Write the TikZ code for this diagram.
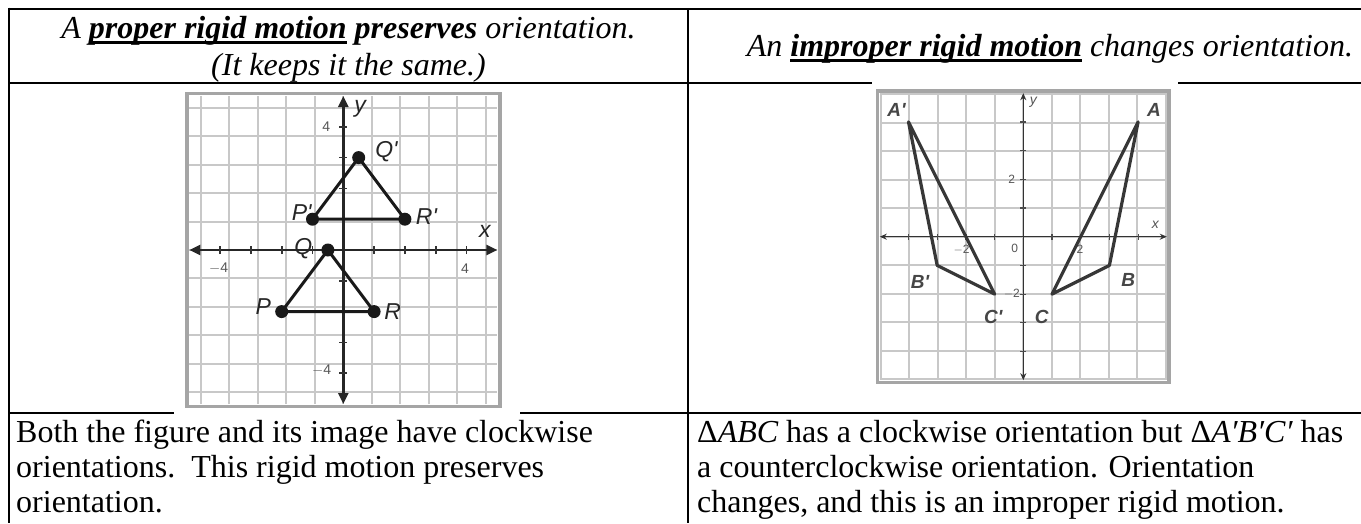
\documentclass[tikz,border=0pt]{standalone}
\usepackage{fontspec}
\setmainfont{Liberation Serif}
\newfontfamily\lblfont{Liberation Sans}
\usetikzlibrary{arrows.meta}
\definecolor{gridgray}{RGB}{200,200,200}
\definecolor{framegray}{RGB}{165,165,165}
\definecolor{lblgray}{RGB}{70,70,70}
\definecolor{numgray}{RGB}{85,85,85}
\definecolor{trigray}{RGB}{55,55,55}
\newcommand{\myul}[1]{\setbox0=\hbox{#1}\rlap{\rule[-5.5pt]{\wd0}{3pt}}\box0}
\newcommand{\pr}{\char"2032\relax}
\begin{document}
\begin{tikzpicture}[x=1pt,y=-1pt,
  tbl/.style={line width=2.6pt},
  hdr/.style={anchor=base,inner sep=0pt,font=\fontsize{32}{36}\selectfont},
  bodytxt/.style={anchor=base west,inner sep=0pt,font=\fontsize{32}{36}\selectfont},
  gridL/.style={draw=gridgray,line width=2pt},
  frameL/.style={draw=framegray,line width=3.5pt},
  axisL/.style={draw=black!85,line width=2.4pt,{Triangle[length=11pt,width=10pt]}-{Triangle[length=11pt,width=10pt]}},
  tickL/.style={draw=black!80,line width=1.6pt},
  triL/.style={draw=black!90,line width=3pt,line join=round},
  dotL/.style={circle,fill=black!90,inner sep=0pt,minimum size=13pt},
  lblL/.style={inner sep=0pt,font=\lblfont\itshape\fontsize{23}{23}\selectfont,text=black!85},
  numL/.style={inner sep=0pt,font=\lblfont\fontsize{14}{14}\selectfont,text=numgray},
  gridR/.style={draw=gridgray,line width=2pt},
  frameR/.style={draw=framegray,line width=3.5pt},
  axisR/.style={draw=black!80,line width=1.4pt,{Stealth[length=7pt,width=6pt]}-{Stealth[length=7pt,width=6pt]}},
  tickR/.style={draw=black!70,line width=1.2pt},
  triR/.style={draw=trigray,line width=3.2pt,line join=round},
  lblR/.style={inner sep=0pt,font=\lblfont\bfseries\itshape\fontsize{19}{19}\selectfont,text=lblgray},
  numR/.style={inner sep=0pt,font=\lblfont\fontsize{12}{12}\selectfont,text=numgray}
]
\useasboundingbox (0,0) rectangle (1361,523);
\fill[white] (0,0) rectangle (1361,523);

% table rules
\draw[tbl] (9,9) -- (1361,9);
\draw[tbl] (9,7.7) -- (9,523);
\draw[tbl] (688,9) -- (688,523);
\draw[tbl] (9,83) -- (872,83);
\draw[tbl] (1178,83) -- (1361,83);
\draw[tbl] (9,413) -- (174,413);
\draw[tbl] (520,413) -- (1361,413);

% headers
\node[hdr] (h1) at (348.5,38.5) {{\itshape A }\myul{\bfseries\itshape proper rigid motion}{\bfseries\itshape\ preserves}{\itshape\ orientation.}};
\node[hdr] (h2) at (348.5,75) {\itshape (It keeps it the same.)};
\node[hdr] (h3) at (1050,56) {{\itshape An }\myul{\bfseries\itshape improper rigid motion}{\itshape\ changes orientation.}};

% body text
\node[bodytxt] (b1) at (16,442) {Both the figure and its image have clockwise};
\node[bodytxt] (b2) at (16,477) {orientations.\ \ This rigid motion preserves};
\node[bodytxt] (b3) at (16,512) {orientation.};
\node[bodytxt] (c1) at (697,442) {Δ{\itshape ABC} has a clockwise orientation but Δ{\itshape A\pr B\pr C\pr} has};
\node[bodytxt] (c2) at (697,477) {a counterclockwise orientation. Orientation};
\node[bodytxt] (c3) at (697,512) {changes, and this is an improper rigid motion.};

% left graph
\begin{scope}[shift={(343.3,250)},x=30.8pt,y=30.8pt]
  \draw[gridL] (-5,-5) grid (5,5);
  \draw[frameL] (-5.08,-5.08) rectangle (5.08,5.08);
  \coordinate (xl1) at (-5,0); \coordinate (xr1) at (5,0);
  \coordinate (yb1) at (0,-5); \coordinate (yt1) at (0,5);
  \draw[axisL] (xl1) -- (xr1);
  \draw[axisL] (yb1) -- (yt1);
  \foreach \i in {-4,...,-1,1,2,3,4} {
    \draw[tickL] (\i,-0.13) -- (\i,0.13);
    \draw[tickL] (-0.13,\i) -- (0.13,\i);
  }
  \coordinate (P) at (-2,-2); \coordinate (Q) at (-0.5,0); \coordinate (R) at (1,-2);
  \coordinate (P') at (-1,1); \coordinate (Q') at (0.5,3); \coordinate (R') at (2,1);
  \draw[triL] (P) -- (Q) -- (R) -- cycle;
  \draw[triL] (P') -- (Q') -- (R') -- cycle;
  \node[dotL] (dP) at (P) {}; \node[dotL] (dQ) at (Q) {}; \node[dotL] (dR) at (R) {};
  \node[dotL] (dPp) at (P') {}; \node[dotL] (dQp) at (Q') {}; \node[dotL] (dRp) at (R') {};
  \node[lblL] (lQp) at (1.4,3.2) {Q'};
  \node[lblL] (lPp) at (-1.35,1.2) {P'};
  \node[lblL] (lRp) at (2.7,1.1) {R'};
  \node[lblL] (lQ) at (-1.3,0.05) {Q};
  \node[lblL] (lP) at (-2.6,-1.85) {P};
  \node[lblL] (lR) at (1.6,-2.0) {R};
  \node[lblL] (ly1) at (0.55,4.6) {y};
  \node[lblL] (lx1) at (4.6,0.6) {x};
  \node[numL] (n1) at (-0.55,4) {4};
  \node[numL] (n2) at (-4.05,-0.6) {$-$4};
  \node[numL] (n3) at (3.95,-0.6) {4};
  \node[numL] (n4) at (-0.7,-3.9) {$-$4};
\end{scope}

% right graph
\begin{scope}[shift={(1023.3,236.7)},x=28.7pt,y=28.7pt]
  \draw[gridR] (-5,-5) grid (5,5);
  \draw[frameR] (-5.08,-5.08) rectangle (5.08,5.08);
  \coordinate (xl2) at (-5,0); \coordinate (xr2) at (5,0);
  \coordinate (yb2) at (0,-5); \coordinate (yt2) at (0,5);
  \draw[axisR] (xl2) -- (xr2);
  \draw[axisR] (yb2) -- (yt2);
  \foreach \i in {-4,...,-1,1,2,3,4} {
    \draw[tickR] (\i,-0.1) -- (\i,0.1);
    \draw[tickR] (-0.1,\i) -- (0.1,\i);
  }
  \coordinate (A) at (4,4); \coordinate (B) at (3,-1); \coordinate (C) at (1,-2);
  \coordinate (A') at (-4,4); \coordinate (B') at (-3,-1); \coordinate (C') at (-1,-2);
  \node[numR] (m1) at (-0.4,2) {2};
  \node[numR] (m2) at (-0.3,-0.4) {0};
  \node[numR] (m3) at (-2.15,-0.45) {$-$2};
  \node[numR] (m4) at (1.97,-0.45) {2};
  \node[numR] (m5) at (-0.4,-2) {$-$2};
  \draw[triR] (A) -- (B) -- (C) -- cycle;
  \draw[triR] (A') -- (B') -- (C') -- cycle;
  \node[lblR] (lAp) at (-4.42,4.42) {A'};
  \node[lblR] (lA) at (4.55,4.42) {A};
  \node[lblR] (lBp) at (-3.6,-1.57) {B'};
  \node[lblR] (lB) at (3.66,-1.51) {B};
  \node[lblR] (lCp) at (-1.05,-2.79) {C'};
  \node[lblR] (lC) at (0.64,-2.79) {C};
  \node[numR,font=\lblfont\itshape\fontsize{14}{14}\selectfont] (ly2) at (0.35,4.7) {y};
  \node[numR,font=\lblfont\itshape\fontsize{14}{14}\selectfont] (lx2) at (4.6,0.4) {x};
\end{scope}
\end{tikzpicture}
\end{document}
